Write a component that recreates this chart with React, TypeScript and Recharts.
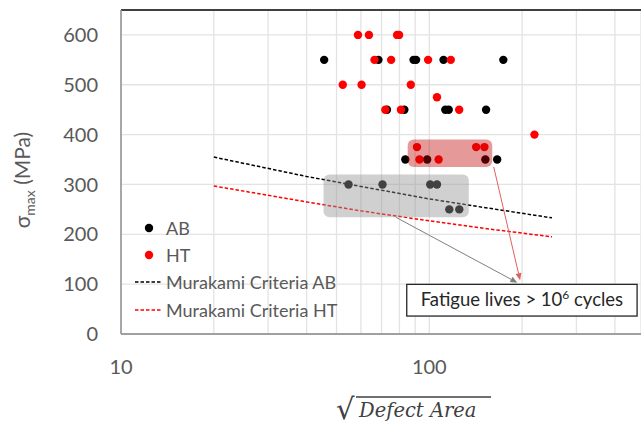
import {
  ComposedChart,
  Scatter,
  Line,
  XAxis,
  YAxis,
  CartesianGrid,
  ReferenceArea,
  ReferenceLine,
  Legend,
} from 'recharts'

// --- data ---
const abDefect = [45.6, 68.4, 88.9, 90.6, 111.2, 173.8, 72.9, 83, 112.7, 115.6, 152.8, 83.6, 98.4, 152, 166, 54.7, 70.5, 100.7, 105.9, 116.1, 125.1]
const abStress = [550, 550, 550, 550, 550, 550, 450, 450, 450, 450, 450, 350, 350, 350, 350, 300, 300, 300, 300, 250, 250]

const htDefect = [58.7, 63.7, 78.6, 79.8, 66.4, 75.2, 99.1, 117.4, 52.4, 60.3, 87.1, 105.9, 72, 80.9, 125, 219.3, 91.2, 141.9, 150.9, 92.9, 107.2]
const htStress = [600, 600, 600, 600, 550, 550, 550, 550, 500, 500, 500, 475, 450, 450, 450, 400, 375, 375, 375, 350, 350]

const murakamiDefect = [20, 40, 60, 100, 150, 250]
const murakamiAB = [355, 316, 296, 271, 254, 233]
const murakamiHT = [297, 265, 247, 227, 212, 195]

const xTicks = [10, 20, 30, 40, 50, 60, 70, 80, 90, 100, 200, 300, 400]
const xLabelled = [10, 100]
const yTicks = [0, 100, 200, 300, 400, 500, 600]

const abData = abDefect.map((x, i) => ({ x, y: abStress[i] }))
const htData = htDefect.map((x, i) => ({ x, y: htStress[i] }))
const mkAB = murakamiDefect.map((x, i) => ({ x, y: murakamiAB[i] }))
const mkHT = murakamiDefect.map((x, i) => ({ x, y: murakamiHT[i] }))

const FONT = 'Lato, "Open Sans", sans-serif'
const GREY = '#595959'

const legendItems = [
  { name: 'AB', color: '#000000', kind: 'dot' },
  { name: 'HT', color: '#ff0000', kind: 'dot' },
  { name: 'Murakami Criteria AB', color: '#000000', kind: 'dash' },
  { name: 'Murakami Criteria HT', color: '#ff0000', kind: 'dash' },
]

const dot = (color: string) => (p: any) => <circle cx={p.cx} cy={p.cy} r={4.2} fill={color} />

const roundBox = (fill: string, opacity: number) => (p: any) => (
  <rect x={p.x} y={p.y} width={p.width} height={p.height} rx={6} fill={fill} fillOpacity={opacity} />
)

const arrow = (color: string) => (p: any) => {
  const { x1, y1, x2, y2 } = p
  const a = Math.atan2(y2 - y1, x2 - x1)
  const L = 7
  const W = 3
  const bx = x2 - L * Math.cos(a)
  const by = y2 - L * Math.sin(a)
  const pts = [
    `${x2},${y2}`,
    `${bx + W * Math.sin(a)},${by - W * Math.cos(a)}`,
    `${bx - W * Math.sin(a)},${by + W * Math.cos(a)}`,
  ].join(' ')
  return (
    <g>
      <line x1={x1} y1={y1} x2={bx} y2={by} stroke={color} strokeWidth={1} />
      <polygon points={pts} fill={color} />
    </g>
  )
}

const NoteBox = (p: any) => (
  <g>
    <rect x={p.x} y={p.y} width={p.width} height={p.height} fill="#fff" stroke="#262626" strokeWidth={1.3} />
    <text
      x={p.x + p.width / 2}
      y={p.y + p.height / 2 + 6}
      textAnchor="middle"
      fontFamily={FONT}
      fontSize={18.5}
      fill="#262626"
    >
      Fatigue lives {'>'} 10
      <tspan dy={-7} fontSize={12}>6</tspan>
      <tspan dy={7}> cycles</tspan>
    </text>
  </g>
)

const XTitle = () => (
  <g fill="#404040">
    <text x={336} y={419} fontFamily='"DejaVu Sans", sans-serif' fontSize={29}>√</text>
    <line x1={356} y1={397} x2={491} y2={397} stroke="#404040" strokeWidth={1.4} />
    <text x={359} y={417} fontFamily='"DejaVu Serif", serif' fontStyle="italic" fontSize={19.5}>
      Defect Area
    </text>
  </g>
)

const YTitle = () => (
  <text
    transform="translate(30,180) rotate(-90)"
    textAnchor="middle"
    fontFamily={FONT}
    fontSize={21}
    fill={GREY}
  >
    σ<tspan fontSize={14} dy={5}>max</tspan>
    <tspan dy={-5}> (MPa)</tspan>
  </text>
)

const LegendBox = () => (
  <div style={{ fontFamily: FONT, fontSize: 18, color: GREY }}>
    {legendItems.map((it) => (
      <div key={it.name} style={{ display: 'flex', alignItems: 'center', height: 27.4 }}>
        <svg width={30} height={10} style={{ marginRight: 1 }}>
          {it.kind === 'dot' ? (
            <circle cx={14} cy={5} r={4.2} fill={it.color} />
          ) : (
            <line x1={0} y1={5} x2={27} y2={5} stroke={it.color} strokeWidth={1.5} strokeDasharray="3.5 2" />
          )}
        </svg>
        <span>{it.name}</span>
      </div>
    ))}
  </div>
)

export default function App() {
  return (
    <div style={{ position: 'absolute', left: 0, top: 0, width: 641, height: 428, background: '#fff', overflow: 'hidden' }}>
      <ComposedChart width={641} height={428} margin={{ top: 10, right: 0, bottom: 0, left: 0 }}>
        <CartesianGrid stroke="#e3e3e3" strokeWidth={1.3} />
        <XAxis
          type="number"
          dataKey="x"
          scale="log"
          domain={[10, 486]}
          allowDataOverflow
          ticks={xTicks}
          interval={0}
          height={94}
          tickLine={false}
          tickSize={0}
          tickMargin={26}
          axisLine={{ stroke: '#a0a0a0', strokeWidth: 2 }}
          tick={{ fontSize: 20, fill: GREY, fontFamily: FONT }}
          tickFormatter={(v: number) => (xLabelled.includes(v) ? String(v) : '')}
          label={{ content: XTitle }}
        />
        <YAxis
          type="number"
          dataKey="y"
          domain={[0, 650]}
          ticks={yTicks}
          width={121}
          tickLine={false}
          tickSize={0}
          tickMargin={23}
          axisLine={{ stroke: '#8f8f8f', strokeWidth: 1.5 }}
          tick={{ fontSize: 20, fill: GREY, fontFamily: FONT }}
          label={{ content: YTitle }}
        />
        <ReferenceLine y={650} stroke="#404040" strokeWidth={2} />
        <Legend
          layout="vertical"
          align="center"
          verticalAlign="middle"
          content={LegendBox}
          wrapperStyle={{ left: 135, top: 214, width: 260 }}
        />
        <Line data={mkAB} dataKey="y" stroke="#000" strokeWidth={1.5} strokeDasharray="3.5 2" dot={false} isAnimationActive={false} />
        <Line data={mkHT} dataKey="y" stroke="#ff0000" strokeWidth={1.5} strokeDasharray="3.5 2" dot={false} isAnimationActive={false} />
        <Scatter data={abData} fill="#000" shape={dot('#000')} isAnimationActive={false} />
        <Scatter data={htData} fill="#ff0000" shape={dot('#ff0000')} isAnimationActive={false} />
        <ReferenceArea x1={45.4} x2={134.3} y1={234} y2={320} shape={roundBox('#939393', 0.44)} zIndex={700} />
        <ReferenceArea x1={85.1} x2={160} y1={335} y2={390} shape={roundBox('#c00000', 0.4)} zIndex={700} />
        <ReferenceLine segment={[{ x: 78, y: 234 }, { x: 193, y: 103 }]} shape={arrow('#7f7f7f')} ifOverflow="visible" zIndex={750} />
        <ReferenceLine segment={[{ x: 161.8, y: 335 }, { x: 197, y: 108 }]} shape={arrow('#e06060')} ifOverflow="visible" zIndex={750} />
        <ReferenceArea x1={84.5} x2={472} y1={36} y2={99.6} shape={NoteBox} zIndex={800} />
      </ComposedChart>
    </div>
  )
}
